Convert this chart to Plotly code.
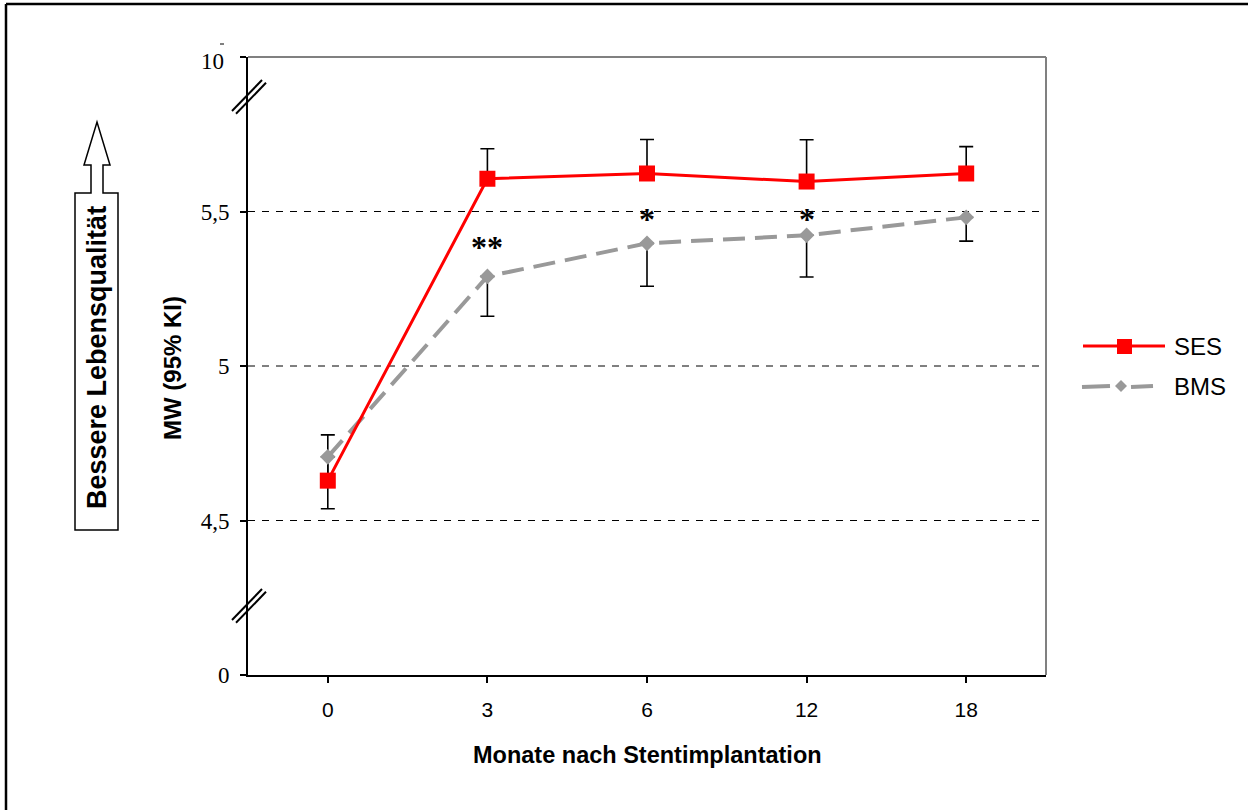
import plotly.graph_objects as go

# ---------------- data ----------------
months = ["0", "3", "6", "12", "18"]
ses = [4.629, 5.606, 5.623, 5.597, 5.623]
ses_err_plus = [0.148, 0.097, 0.110, 0.135, 0.087]
bms = [4.706, 5.290, 5.397, 5.423, 5.481]
bms_err_minus = [0.168, 0.129, 0.139, 0.135, 0.077]
y_tick_vals = [4.0, 4.5, 5.0, 5.5, 6.0]
y_tick_text = ["0", "4,5", "5", "5,5", ""]
top_label = "10"
stars = [("3", "**"), ("6", "*"), ("12", "*")]
star_y = [5.385, 5.475, 5.475]

# ---------------- layout geometry ----------------
W, H = 1248, 810
L, R, T, B = 248, 1046, 57, 675  # plot area in pixels


def px(xp):
    return (xp - L) / (R - L)


def py(yp):
    return (B - yp) / (B - T)


RED = "#FF0000"
GRAY = "#999999"

fig = go.Figure()

# error bars (drawn beneath lines/markers)
fig.add_trace(go.Scatter(
    x=months, y=[v + e / 2 for v, e in zip(ses, ses_err_plus)], mode="markers",
    marker=dict(size=1, opacity=0), showlegend=False, hoverinfo="skip",
    error_y=dict(type="data", array=[e / 2 for e in ses_err_plus], symmetric=True,
                 color="black", thickness=1.6, width=7)))
fig.add_trace(go.Scatter(
    x=months, y=[v - e / 2 for v, e in zip(bms, bms_err_minus)], mode="markers",
    marker=dict(size=1, opacity=0), showlegend=False, hoverinfo="skip",
    error_y=dict(type="data", array=[e / 2 for e in bms_err_minus], symmetric=True,
                 color="black", thickness=1.6, width=7)))

fig.add_trace(go.Scatter(
    x=months, y=bms, mode="lines+markers", name="BMS", showlegend=False,
    line=dict(color=GRAY, width=4, dash="22px,10px"),
    marker=dict(symbol="diamond", size=12, color=GRAY)))
fig.add_trace(go.Scatter(
    x=months, y=ses, mode="lines+markers", name="SES", showlegend=False,
    line=dict(color=RED, width=3),
    marker=dict(symbol="square", size=16, color=RED)))

shapes = []
# dashed grid lines
for v in [4.5, 5.0, 5.5]:
    shapes.append(dict(type="line", xref="paper", yref="y", x0=0, x1=1, y0=v, y1=v,
                       line=dict(color="black", width=1, dash="7px,7px"), layer="below"))
# gray top/right border
shapes.append(dict(type="line", xref="paper", yref="paper", x0=0, x1=1, y0=1, y1=1,
                   line=dict(color="#808080", width=2)))
shapes.append(dict(type="line", xref="paper", yref="paper", x0=1, x1=1, y0=0, y1=1,
                   line=dict(color="#808080", width=2)))
# axis break marks
for cy in [96, 605]:
    for off in [0, 4]:
        shapes.append(dict(type="line", xref="paper", yref="paper",
                           x0=px(232 + off), y0=py(cy + 15 + off * 0.7),
                           x1=px(262 + off), y1=py(cy - 16 + off * 0.7),
                           line=dict(color="black", width=2)))
# tiny dash above "10"
shapes.append(dict(type="line", xref="paper", yref="paper", x0=px(220), x1=px(224),
                   y0=py(44), y1=py(44), line=dict(color="black", width=1)))
# outer frame (top/left)
shapes.append(dict(type="line", xref="paper", yref="paper", x0=px(6), x1=px(1260),
                   y0=py(4), y1=py(4), line=dict(color="black", width=2.5)))
shapes.append(dict(type="line", xref="paper", yref="paper", x0=px(6), x1=px(6),
                   y0=py(4), y1=py(820), line=dict(color="black", width=2.5)))
# arrow box
pts = [(75, 530), (75, 193), (91, 193), (91, 165), (84, 165), (97, 122), (110, 165),
       (103, 165), (103, 193), (118, 193), (118, 530)]
path = "M " + " L ".join(f"{px(a):.5f},{py(b):.5f}" for a, b in pts) + " Z"
shapes.append(dict(type="path", xref="paper", yref="paper", path=path,
                   line=dict(color="black", width=1.5), fillcolor="white"))
# manual legend
shapes.append(dict(type="line", xref="paper", yref="paper", x0=px(1083), x1=px(1165),
                   y0=py(346), y1=py(346), line=dict(color=RED, width=3)))
shapes.append(dict(type="rect", xref="paper", yref="paper", x0=px(1117), x1=px(1132),
                   y0=py(339), y1=py(354), line=dict(width=0), fillcolor=RED))
for a, b in [(1082, 1110), (1131, 1153)]:
    shapes.append(dict(type="line", xref="paper", yref="paper", x0=px(a), x1=px(b),
                       y0=py(387), y1=py(386), line=dict(color=GRAY, width=4)))
dpts = [(1121, 380), (1127, 386), (1121, 392), (1115, 386)]
shapes.append(dict(type="path", xref="paper", yref="paper",
                   path="M " + " L ".join(f"{px(a):.5f},{py(b):.5f}" for a, b in dpts) + " Z",
                   line=dict(width=0), fillcolor=GRAY))

annotations = []
for (m, s), yv in zip(stars, star_y):
    annotations.append(dict(x=months.index(m), y=yv, xref="x", yref="y", text=f"<b>{s}</b>",
                            showarrow=False,
                            font=dict(family="Liberation Serif", size=32, color="black"),
                            xanchor="center", yanchor="middle"))
annotations += [
    dict(x=px(226), y=py(62), xref="paper", yref="paper", text=top_label, showarrow=False,
         xanchor="right", yanchor="middle", font=dict(family="Liberation Serif", size=23, color="black")),
    dict(x=px(1172), y=py(346), xref="paper", yref="paper", text="SES", showarrow=False,
         xanchor="left", yanchor="middle", font=dict(family="Liberation Sans", size=24, color="black")),
    dict(x=px(1172), y=py(386), xref="paper", yref="paper", text="BMS", showarrow=False,
         xanchor="left", yanchor="middle", font=dict(family="Liberation Sans", size=24, color="black")),
    dict(x=px(647), y=py(755), xref="paper", yref="paper", text="<b>Monate nach Stentimplantation</b>",
         showarrow=False, xanchor="center", yanchor="middle",
         font=dict(family="Liberation Sans", size=23.5, color="black")),
    dict(x=px(172), y=py(368), xref="paper", yref="paper", text="<b>MW (95% KI)</b>",
         showarrow=False, xanchor="center", yanchor="middle", textangle=-90,
         font=dict(family="Liberation Sans", size=24, color="black")),
    dict(x=px(97), y=py(358), xref="paper", yref="paper", text="<b>Bessere Lebensqualität</b>",
         showarrow=False, xanchor="center", yanchor="middle", textangle=-90,
         font=dict(family="Liberation Sans", size=27, color="black")),
]

fig.update_layout(
    width=W, height=H,
    margin=dict(l=L, r=W - R, t=T, b=H - B, pad=0),
    paper_bgcolor="white", plot_bgcolor="white",
    showlegend=False,
    shapes=shapes, annotations=annotations,
    xaxis=dict(type="category", categoryorder="array", categoryarray=months,
               range=[-0.5, 4.5], showgrid=False, zeroline=False,
               showline=True, linecolor="black", linewidth=2,
               ticks="outside", ticklen=6, tickwidth=1.5, tickcolor="black",
               tickfont=dict(family="Liberation Sans", size=21, color="black"),
               ticklabelstandoff=9),
    yaxis=dict(range=[4.0, 6.0], tickvals=y_tick_vals, ticktext=y_tick_text,
               showgrid=False, zeroline=False,
               showline=True, linecolor="black", linewidth=2,
               ticks="outside", ticklen=6, tickwidth=1.5, tickcolor="black",
               tickfont=dict(family="Liberation Serif", size=23, color="black"),
               ticklabelstandoff=6),
)

fig.write_html("out.html")
